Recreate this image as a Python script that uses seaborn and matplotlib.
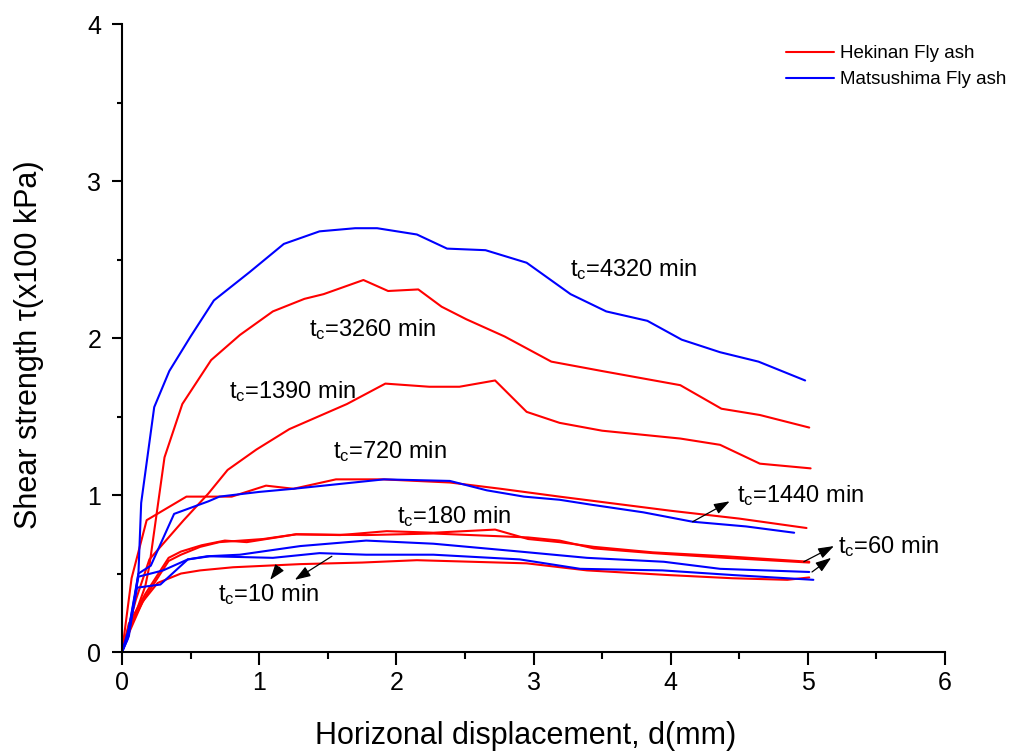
import matplotlib
matplotlib.use("Agg")
import matplotlib.pyplot as plt
from matplotlib.ticker import MultipleLocator
import numpy as np
import pandas as pd
import seaborn as sns

# Hekinan fly ash (red), one curve per consolidation time
h10_x = [0, 0.05, 0.15, 0.26, 0.43, 0.57, 0.81, 1.30, 1.75, 2.15, 2.55, 2.95, 3.39, 3.99, 4.45, 4.85, 5.01]
h10_y = [0, 0.12, 0.32, 0.44, 0.50, 0.52, 0.54, 0.56, 0.57, 0.585, 0.575, 0.565, 0.52, 0.49, 0.47, 0.46, 0.475]

h60_x = [0, 0.05, 0.17, 0.34, 0.43, 0.57, 0.71, 1.03, 1.27, 1.78, 2.27, 2.96, 3.19, 3.44, 3.87, 4.40, 5.01]
h60_y = [0, 0.15, 0.35, 0.58, 0.62, 0.67, 0.70, 0.72, 0.75, 0.745, 0.755, 0.73, 0.71, 0.66, 0.63, 0.60, 0.57]

h180_x = [0, 0.05, 0.17, 0.34, 0.43, 0.58, 0.75, 0.91, 1.27, 1.59, 1.93, 2.27, 2.72, 2.96, 3.19, 3.44, 3.87, 4.40, 5.01]
h180_y = [0, 0.18, 0.37, 0.60, 0.64, 0.68, 0.71, 0.70, 0.75, 0.745, 0.77, 0.76, 0.78, 0.72, 0.70, 0.67, 0.635, 0.61, 0.575]

h720_x = [0, 0.07, 0.18, 0.47, 0.80, 1.05, 1.25, 1.56, 1.90, 2.39, 2.76, 3.19, 4.00, 4.50, 4.99]
h720_y = [0, 0.47, 0.84, 0.99, 0.99, 1.06, 1.04, 1.10, 1.10, 1.08, 1.04, 0.99, 0.90, 0.85, 0.79]

h1390_x = [0, 0.10, 0.20, 0.45, 0.63, 0.77, 0.98, 1.22, 1.64, 1.92, 2.24, 2.46, 2.72, 2.95, 3.19, 3.50, 4.07, 4.36, 4.65, 5.02]
h1390_y = [0, 0.33, 0.59, 0.84, 1.01, 1.16, 1.29, 1.42, 1.58, 1.71, 1.69, 1.69, 1.73, 1.53, 1.46, 1.41, 1.36, 1.32, 1.20, 1.17]

h3260_x = [0, 0.06, 0.17, 0.20, 0.31, 0.44, 0.65, 0.86, 1.10, 1.33, 1.47, 1.76, 1.94, 2.16, 2.33, 2.51, 2.79, 3.13, 3.50, 4.07, 4.37, 4.65, 5.01]
h3260_y = [0, 0.15, 0.42, 0.55, 1.24, 1.58, 1.86, 2.02, 2.17, 2.25, 2.28, 2.37, 2.30, 2.31, 2.20, 2.12, 2.01, 1.85, 1.79, 1.70, 1.55, 1.51, 1.43]

# Matsushima fly ash (blue)
m10_x = [0, 0.04, 0.11, 0.28, 0.48, 0.64, 1.10, 1.44, 1.78, 2.27, 2.90, 3.34, 3.94, 4.46, 5.04]
m10_y = [0, 0.08, 0.41, 0.43, 0.59, 0.61, 0.60, 0.63, 0.62, 0.62, 0.59, 0.53, 0.52, 0.49, 0.46]

m60_x = [0, 0.04, 0.12, 0.30, 0.48, 0.62, 0.86, 1.30, 1.78, 2.27, 2.90, 3.39, 3.95, 4.36, 5.01]
m60_y = [0, 0.10, 0.48, 0.52, 0.59, 0.61, 0.62, 0.675, 0.71, 0.69, 0.64, 0.60, 0.575, 0.53, 0.51]

m1440_x = [0, 0.05, 0.12, 0.21, 0.38, 0.63, 0.71, 1.00, 1.25, 1.91, 2.39, 2.66, 2.93, 3.19, 3.41, 3.80, 4.16, 4.55, 4.90]
m1440_y = [0, 0.15, 0.50, 0.55, 0.88, 0.96, 0.99, 1.02, 1.04, 1.10, 1.09, 1.03, 0.99, 0.97, 0.94, 0.89, 0.83, 0.80, 0.76]

m4320_x = [0, 0.05, 0.12, 0.14, 0.235, 0.345, 0.50, 0.67, 0.93, 1.18, 1.44, 1.70, 1.86, 2.15, 2.37, 2.65, 2.95, 3.27, 3.53, 3.83, 4.08, 4.36, 4.64, 4.98]
m4320_y = [0, 0.10, 0.50, 0.95, 1.56, 1.79, 2.01, 2.24, 2.42, 2.60, 2.68, 2.70, 2.70, 2.66, 2.57, 2.56, 2.48, 2.28, 2.17, 2.11, 1.99, 1.91, 1.85, 1.73]

curves = [
    ("H10", "Hekinan Fly ash", h10_x, h10_y),
    ("H60", "Hekinan Fly ash", h60_x, h60_y),
    ("H180", "Hekinan Fly ash", h180_x, h180_y),
    ("H720", "Hekinan Fly ash", h720_x, h720_y),
    ("H1390", "Hekinan Fly ash", h1390_x, h1390_y),
    ("H3260", "Hekinan Fly ash", h3260_x, h3260_y),
    ("M10", "Matsushima Fly ash", m10_x, m10_y),
    ("M60", "Matsushima Fly ash", m60_x, m60_y),
    ("M1440", "Matsushima Fly ash", m1440_x, m1440_y),
    ("M4320", "Matsushima Fly ash", m4320_x, m4320_y),
]

rows = []
for name, ash, xs, ys in curves:
    for x, y in zip(xs, ys):
        rows.append([name, ash, x, y])
df = pd.DataFrame(rows, columns=["curve", "ash", "d", "tau"])

# label text, position (x, baseline y)
labels = [
    ("=4320 min", 3.265, 2.395),
    ("=3260 min", 1.36, 2.01),
    ("=1390 min", 0.78, 1.62),
    ("=720 min", 1.536, 1.234),
    ("=180 min", 2.007, 0.824),
    ("=1440 min", 4.485, 0.953),
    ("=60 min", 5.221, 0.629),
    ("=10 min", 0.702, 0.325),
]
# arrows: tail -> head
arrows = [
    ((4.16, 0.83), (4.43, 0.96)),
    ((4.97, 0.575), (5.19, 0.675)),
    ((5.03, 0.51), (5.17, 0.60)),
    ((1.15, 0.54), (1.08, 0.46)),
    ((1.53, 0.61), (1.26, 0.46)),
]

sns.set_style("ticks")
plt.rcParams["font.family"] = ["Liberation Sans", "DejaVu Sans"]
plt.rcParams["mathtext.fontset"] = "custom"
plt.rcParams["mathtext.rm"] = "Liberation Sans"
plt.rcParams["mathtext.it"] = "Liberation Sans"
plt.rcParams["text.color"] = "black"
plt.rcParams["axes.labelcolor"] = "black"
plt.rcParams["xtick.color"] = "black"
plt.rcParams["ytick.color"] = "black"

fig = plt.figure(figsize=(10.25, 7.55), dpi=100)
ax = fig.add_axes([0.119, 0.1364, 0.803, 0.8316])

sns.lineplot(data=df, x="d", y="tau", hue="ash", units="curve", estimator=None,
             sort=False, palette={"Hekinan Fly ash": "#ff0000", "Matsushima Fly ash": "#0000ff"},
             lw=1.5, ax=ax)

ax.set_xlim(0, 6)
ax.set_ylim(0, 4)
ax.xaxis.set_major_locator(MultipleLocator(1))
ax.xaxis.set_minor_locator(MultipleLocator(0.5))
ax.yaxis.set_major_locator(MultipleLocator(1))
ax.yaxis.set_minor_locator(MultipleLocator(0.5))
sns.despine(ax=ax)
for s in ["left", "bottom"]:
    ax.spines[s].set_linewidth(1.5)
    ax.spines[s].set_color("black")
ax.tick_params(axis="x", which="major", length=9, width=1.5, labelsize=18, pad=5)
ax.tick_params(axis="x", which="minor", length=5, width=1.5)
ax.tick_params(axis="y", which="major", length=7, width=1.5, labelsize=18, pad=8)
ax.tick_params(axis="y", which="minor", length=3.6, width=1.5)

ax.set_xlabel("Horizonal displacement, d(mm)", fontsize=22)
ax.set_ylabel("Shear strength τ(x100 kPa)", fontsize=22)
ax.xaxis.set_label_coords(0.49, -0.11)
ax.yaxis.set_label_coords(-0.095, 0.49)

for txt, x, y in labels:
    ax.text(x, y, r"$\mathregular{t_c}$" + txt, fontsize=17, ha="left", va="baseline")

for (x0, y0), (x1, y1) in arrows:
    ax.annotate("", xy=(x1, y1), xytext=(x0, y0),
                arrowprops=dict(arrowstyle="-|>,head_length=0.95,head_width=0.33",
                                color="black", lw=0.9, shrinkA=0, shrinkB=0))

handles, labs = ax.get_legend_handles_labels()
ax.legend(handles, labs, loc="upper left", bbox_to_anchor=(0.767, 0.94),
          bbox_transform=fig.transFigure, frameon=False, fontsize=13.5,
          handlelength=2.55, handletextpad=0.3, labelspacing=0.46,
          borderpad=0, borderaxespad=0)

fig.savefig("out.png", dpi=100)
